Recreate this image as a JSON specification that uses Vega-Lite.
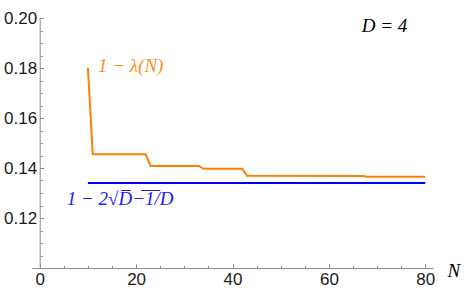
{
  "$schema": "https://vega.github.io/schema/vega-lite/v6.json",
  "width": 401,
  "height": 250,
  "autosize": {"type": "none"},
  "padding": {"left": 32, "top": 18, "right": 38, "bottom": 22},
  "config": {
    "view": {"stroke": null},
    "axis": {"grid": false, "domainColor": "#8c8c8c", "tickColor": "#8c8c8c", "labelColor": "#1a1a1a", "labelFont": "Liberation Sans", "labelFontSize": 17, "title": null, "domainWidth": 1, "tickWidth": 1}
  },
  "datasets": {
    "lambda": [
      {"N": 10, "v": 0.1801},
      {"N": 11, "v": 0.1455},
      {"N": 22, "v": 0.1455},
      {"N": 23, "v": 0.1408},
      {"N": 33, "v": 0.1408},
      {"N": 34, "v": 0.1397},
      {"N": 42, "v": 0.1397},
      {"N": 43, "v": 0.1369},
      {"N": 67, "v": 0.1368},
      {"N": 68, "v": 0.1365},
      {"N": 80, "v": 0.1365}
    ],
    "bound": [
      {"N": 10, "v": 0.134},
      {"N": 80, "v": 0.134}
    ],
    "labels": [
      {"N": 12.1, "v": 0.1786, "t": "1 − λ(N)", "c": "orange"},
      {"N": 5.6, "v": 0.1252, "t": "1 − 2√D̅−̅1̅/D", "c": "blue"},
      {"N": 66.8, "v": 0.1944, "t": "D = 4", "c": "black"},
      {"N": 84.6, "v": 0.0966, "t": "N", "c": "black"}
    ]
  },
  "layer": [
    {
      "data": {"name": "lambda"},
      "mark": {"type": "line", "color": "#ff8000", "strokeWidth": 2, "clip": false},
      "encoding": {
        "x": {"field": "N", "type": "quantitative", "scale": {"domain": [-1.6, 81.6], "nice": false, "zero": false},
              "axis": {"orient": "bottom", "values": [0, 20, 40, 60, 80], "tickSize": -4, "labelPadding": 7, "labelFlush": false}},
        "y": {"field": "v", "type": "quantitative", "scale": {"domain": [0.1, 0.2], "nice": false, "zero": false},
              "axis": {"orient": "left", "values": [0.12, 0.14, 0.16, 0.18, 0.2], "format": ".2f", "tickSize": -4, "labelPadding": 7, "offset": -7.7, "labelFlush": false}}
      }
    },
    {
      "data": {"name": "bound"},
      "mark": {"type": "line", "color": "#0000ff", "strokeWidth": 2, "clip": false},
      "encoding": {
        "x": {"field": "N", "type": "quantitative",
              "axis": {"orient": "bottom", "values": [5, 10, 15, 25, 30, 35, 45, 50, 55, 65, 70, 75], "tickSize": -2.5, "labels": false, "domain": false}},
        "y": {"field": "v", "type": "quantitative",
              "axis": {"orient": "left", "values": [0.105, 0.11, 0.115, 0.125, 0.13, 0.135, 0.145, 0.15, 0.155, 0.165, 0.17, 0.175, 0.185, 0.19, 0.195], "tickSize": -2.5, "labels": false, "domain": false, "offset": -7.7}}
      }
    },
    {
      "data": {"name": "labels"},
      "mark": {"type": "text", "font": "Liberation Serif", "fontStyle": "italic", "fontSize": 19, "align": "left", "baseline": "alphabetic", "clip": false},
      "encoding": {
        "x": {"field": "N", "type": "quantitative", "axis": null},
        "y": {"field": "v", "type": "quantitative", "axis": null},
        "text": {"field": "t"},
        "color": {"field": "c", "type": "nominal", "scale": {"domain": ["orange", "blue", "black"], "range": ["#ff8c1a", "#1a1aff", "#000000"]}, "legend": null}
      }
    }
  ],
  "resolve": {"axis": {"x": "independent", "y": "independent"}}
}
